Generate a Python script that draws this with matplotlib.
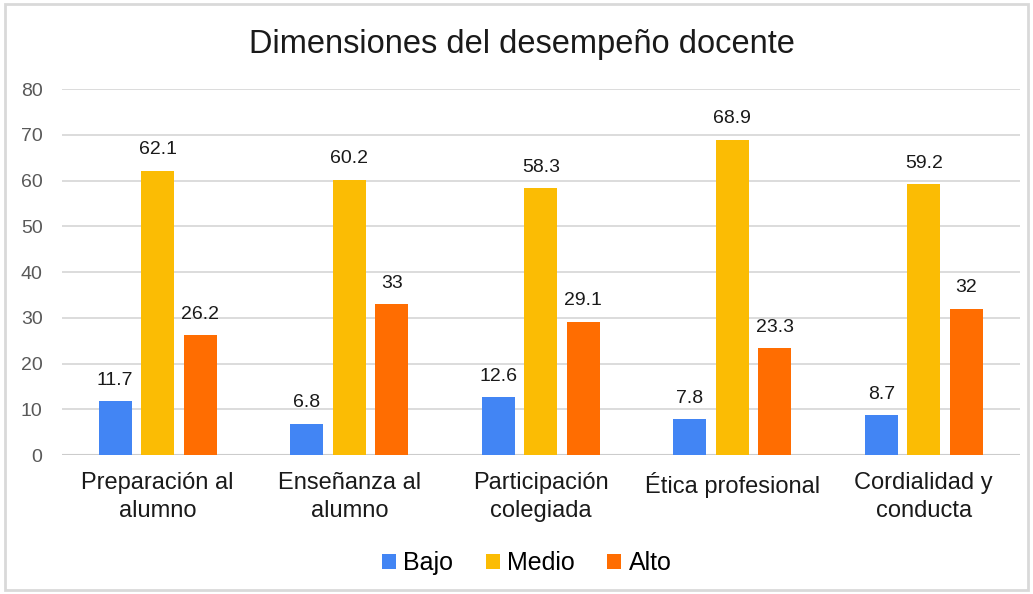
import matplotlib.pyplot as plt
import numpy as np
from matplotlib.patches import Rectangle

categorias = ['Preparación al\nalumno', 'Enseñanza al\nalumno', 'Participación\ncolegiada',
              'Ética profesional', 'Cordialidad y\nconducta']
bajo = [11.7, 6.8, 12.6, 7.8, 8.7]
medio = [62.1, 60.2, 58.3, 68.9, 59.2]
alto = [26.2, 33, 29.1, 23.3, 32]
series = ['Bajo', 'Medio', 'Alto']
colores = ['#4285F4', '#FBBC04', '#FF6D01']

plt.rcParams['font.family'] = ['Liberation Sans', 'DejaVu Sans']

fig = plt.figure(figsize=(10.33, 5.94), dpi=100)
ax = fig.add_axes([0.060, 0.234, 0.927, 0.616])

index = np.arange(len(categorias))
bar_width = 0.172
paso = 0.222

for k, (nombre, valores, col) in enumerate(zip(series, [bajo, medio, alto], colores)):
    pos = index + (k - 1) * paso
    rects = ax.bar(pos, valores, bar_width, color=col, label=nombre, zorder=3)
    for r, v in zip(rects, valores):
        ax.annotate(f'{v:g}', (r.get_x() + r.get_width() / 2, v),
                    xytext=(0, 9), textcoords='offset points',
                    ha='center', va='bottom', fontsize=14, color='#1a1a1a')

ax.set_xlim(-0.5, len(categorias) - 0.5)
ax.set_ylim(0, 80)
ax.set_yticks(range(0, 81, 10))
ax.grid(axis='y', color='#d9d9d9', linewidth=1.3, zorder=0)
for s in ax.spines.values():
    s.set_visible(False)
ax.axhline(0, color='#cccccc', linewidth=1.5, zorder=2)
ax.tick_params(axis='y', length=0, pad=14, labelsize=14, labelcolor='#595959')
ax.tick_params(axis='x', length=0, pad=12, labelsize=17, labelcolor='#1a1a1a')
ax.set_xticks(index)
ax.set_xticklabels(categorias, linespacing=1.4)

fig.text(0.505, 0.925, 'Dimensiones del desempeño docente', ha='center', va='center',
         fontsize=23.5, color='#1a1a1a')

fig.legend(loc='center', bbox_to_anchor=(0.51, 0.052), ncol=3, frameon=False,
           fontsize=18, handlelength=0.55, handleheight=0.55, handletextpad=0.3,
           columnspacing=1.3)

fig.patches.append(Rectangle((0.005, 0.007), 0.99, 0.986, transform=fig.transFigure,
                             fill=False, edgecolor='#d9d9d9', linewidth=2))

fig.savefig('out.png', dpi=100)
